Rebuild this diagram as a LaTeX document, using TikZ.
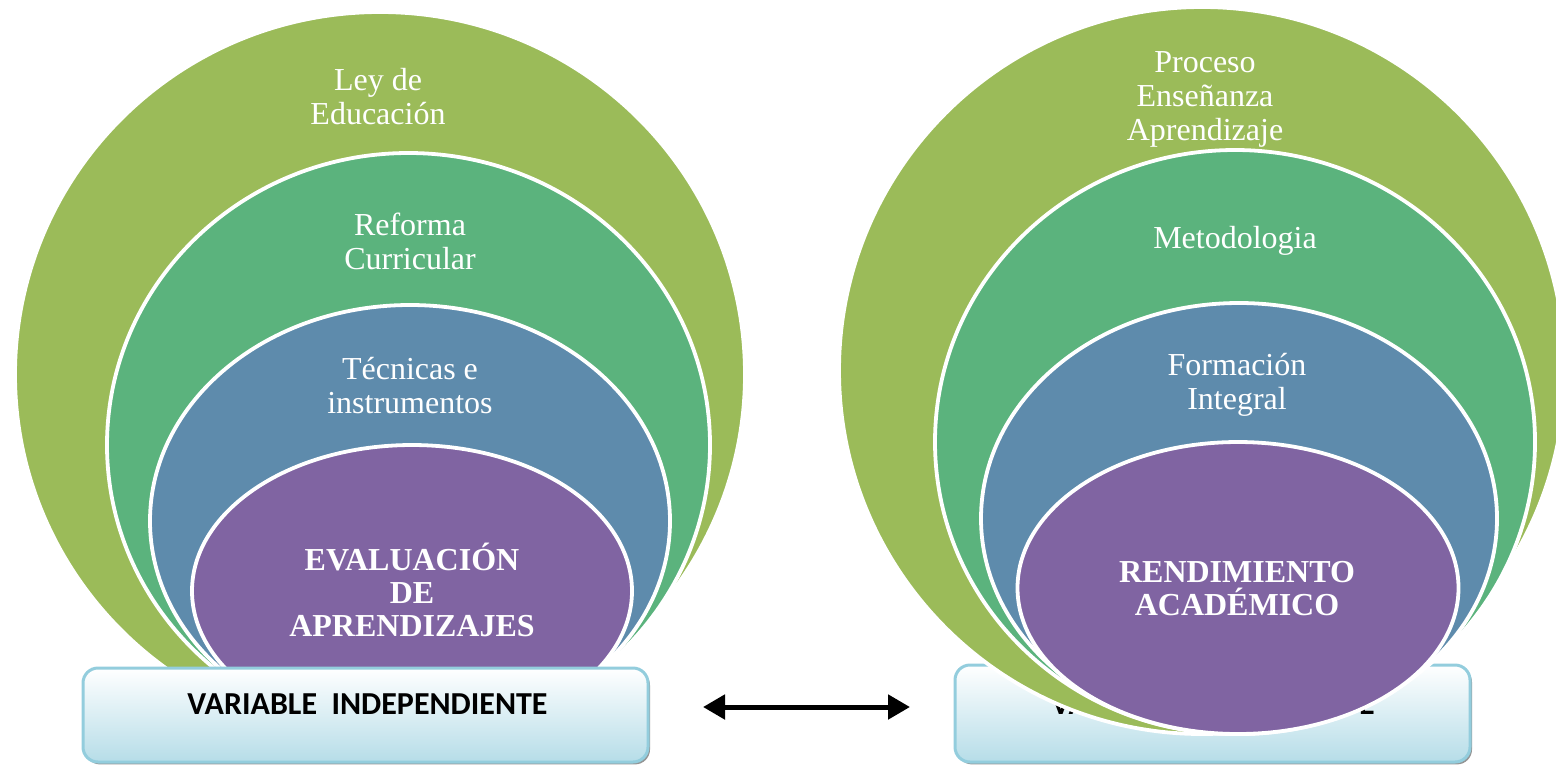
\documentclass[tikz,border=0pt]{standalone}
\usepackage{fontspec}
\setmainfont{Liberation Serif}
\newfontfamily\boxfont{Carlito}
\usetikzlibrary{shapes.geometric,shadows,arrows.meta}
\definecolor{ringlime}{HTML}{9BBB59}
\definecolor{ringgreen}{HTML}{5BB37D}
\definecolor{ringblue}{HTML}{5E8BAC}
\definecolor{ringpurple}{HTML}{8064A2}
\definecolor{boxbot}{HTML}{B6DDE8}
\definecolor{boxline}{HTML}{93CDDD}
\begin{document}
\begin{tikzpicture}[x=0.5pt,y=-0.5pt,
  ring/.style={ellipse, draw=white, line width=1.9pt, inner sep=0pt, outer sep=0pt},
  ringtext/.style={text=white, font=\fontsize{16}{17}\selectfont, align=center, inner sep=0pt},
  coretext/.style={text=white, font=\bfseries\fontsize{16}{16.5}\selectfont, align=center, inner sep=0pt},
  varbox/.style={rectangle, rounded corners=7.5pt, draw=boxline, line width=1.5pt,
    top color=white, bottom color=boxbot, inner sep=0pt,
    drop shadow={shadow xshift=1pt, shadow yshift=-1.2pt, fill=black!70, opacity=0.6}},
  boxtext/.style={font=\boxfont\bfseries\fontsize{16}{18}\selectfont, text=black, inner sep=0pt},
  twoway/.style={line width=2.5pt, {Triangle[length=11pt,width=12pt]}-{Triangle[length=11pt,width=12pt]}}
]
\useasboundingbox (0,0) rectangle (1556,766);

% ---------- right group (box behind the rings) ----------
\node[varbox, minimum width=257.5pt, minimum height=48.5pt] (rbox) at (1212.5,713.5) {};
\node[boxtext] (rboxtext) at (1213,704) {VARIABLE DEPENDIENTE};

\node[ring, fill=ringlime,   minimum width=363pt,   minimum height=363.5pt] (rlime)   at (1202,370.5) {};
\node[ring, fill=ringgreen,  minimum width=300pt,   minimum height=292pt]   (rgreen)  at (1235,442) {};
\node[ring, fill=ringblue,   minimum width=258pt,   minimum height=215.5pt] (rblue)   at (1239,518.5) {};
\node[ring, fill=ringpurple, minimum width=220.5pt, minimum height=146pt]   (rpurple) at (1238,588) {};

\node[ringtext] (t5) at (1205,99) {Proceso\\Enseñanza\\Aprendizaje};
\node[ringtext] (t6) at (1235,241) {Metodologia};
\node[ringtext] (t7) at (1237,385) {Formación\\Integral};
\node[coretext] (t8) at (1237,589) {RENDIMIENTO\\ACADÉMICO};

% ---------- left group (box in front of the rings) ----------
\node[ring, fill=ringlime,   minimum width=365pt,   minimum height=362.5pt] (llime)   at (380,374.5) {};
\node[ring, fill=ringgreen,  minimum width=301.5pt, minimum height=292pt]   (lgreen)  at (408.5,445) {};
\node[ring, fill=ringblue,   minimum width=260pt,   minimum height=216pt]   (lblue)   at (410,521) {};
\node[ring, fill=ringpurple, minimum width=220pt,   minimum height=146pt]   (lpurple) at (412,591) {};

\node[ringtext] (t1) at (378,97) {Ley de\\Educación};
\node[ringtext] (t2) at (410,241) {Reforma\\Curricular};
\node[ringtext] (t3) at (410,386) {Técnicas e\\instrumentos};
\node[coretext] (t4) at (412,590) {EVALUACIÓN\\DE\\APRENDIZAJES};

\node[varbox, minimum width=282.5pt, minimum height=47pt] (lbox) at (365.5,715) {};
\node[boxtext] (lboxtext) at (367.5,704) {VARIABLE\ \ INDEPENDIENTE};

% ---------- double arrow ----------
\coordinate (aleft) at (703,707);
\coordinate (aright) at (910,707);
\draw[twoway] (aleft) -- (aright);
\end{tikzpicture}
\end{document}
